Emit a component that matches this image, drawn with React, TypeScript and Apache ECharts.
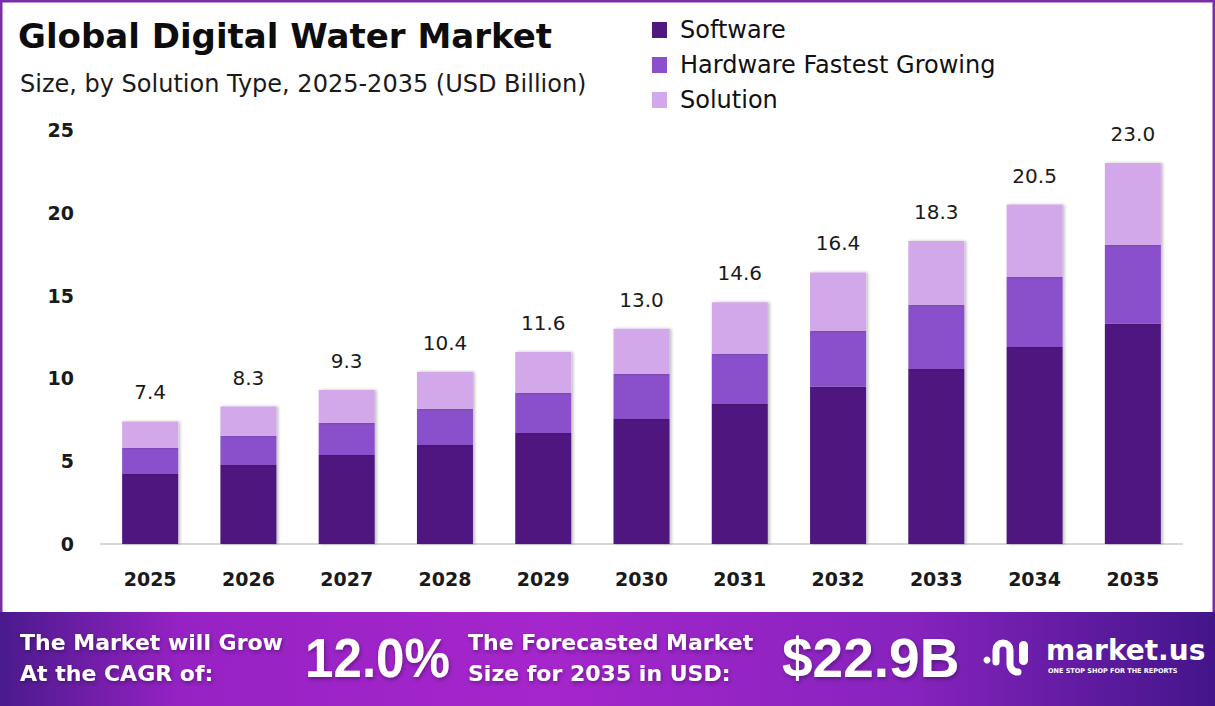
import React, { useEffect, useRef } from "react";
import * as echarts from "echarts";

const years = ["2025", "2026", "2027", "2028", "2029", "2030", "2031", "2032", "2033", "2034", "2035"];
const software = [4.23, 4.77, 5.38, 5.98, 6.7, 7.55, 8.46, 9.5, 10.57, 11.9, 13.3];
const hardware = [1.57, 1.76, 1.93, 2.18, 2.42, 2.72, 3.02, 3.37, 3.87, 4.23, 4.77];
const solution = [1.6, 1.77, 1.99, 2.24, 2.48, 2.73, 3.12, 3.53, 3.86, 4.37, 4.93];
const seriesNames = ["Software", "Hardware Fastest Growing", "Solution"];
const colors = ["#4f1780", "#8a4fcb", "#d3a8eb"];

const FONT = "'DejaVu Sans', sans-serif";
const BIG = "'Liberation Sans', Arial, sans-serif";

echarts.graphic.registerShape(
  "logoArch",
  echarts.graphic.extendPath(
    "M 996 662 L 996 650 A 7 7 0 0 1 1010 650 L 1010 664 A 8 8 0 0 0 1018 672",
    {}
  )
);

export default function App() {
  const ref = useRef<HTMLDivElement>(null);
  useEffect(() => {
    const chart = echarts.init(ref.current!, null, { renderer: "svg" });
    const shadow = {
      shadowBlur: 3,
      shadowColor: "rgba(0,0,0,0.25)",
      shadowOffsetX: 2,
      shadowOffsetY: 0,
    };
    const footText = {
      fill: "#ffffff",
      fontFamily: FONT,
      fontWeight: "bold",
      textShadowColor: "rgba(0,0,0,0.35)",
      textShadowBlur: 4,
      textShadowOffsetX: 1,
      textShadowOffsetY: 2,
    };
    chart.setOption({
      animation: false,
      backgroundColor: "#ffffff",
      color: colors,
      grid: { left: 101, right: 33, top: 130, bottom: 162 },
      legend: {
        orient: "vertical",
        left: 652,
        top: 18,
        itemWidth: 15,
        itemHeight: 16,
        itemGap: 11,
        padding: 0,
        icon: "rect",
        data: seriesNames,
        textStyle: { fontSize: 24, color: "#111", fontFamily: FONT, padding: [0, 0, 0, 8] },
      },
      xAxis: {
        type: "category",
        data: years,
        axisTick: { show: false },
        axisLine: { lineStyle: { color: "#d6d6d6", width: 2 } },
        axisLabel: { fontSize: 19, fontWeight: "bold", color: "#1a1a1a", margin: 25, fontFamily: FONT },
      },
      yAxis: {
        type: "value",
        min: 0,
        max: 25,
        interval: 5,
        splitLine: { show: false },
        axisLine: { show: false },
        axisTick: { show: false },
        axisLabel: { fontSize: 19, fontWeight: "bold", color: "#1a1a1a", margin: 27, fontFamily: FONT },
      },
      series: [
        {
          name: seriesNames[0],
          type: "bar",
          stack: "total",
          barWidth: 56,
          data: software,
          itemStyle: { color: colors[0], ...shadow },
        },
        {
          name: seriesNames[1],
          type: "bar",
          stack: "total",
          barWidth: 56,
          data: hardware,
          itemStyle: { color: colors[1], ...shadow },
        },
        {
          name: seriesNames[2],
          type: "bar",
          stack: "total",
          barWidth: 56,
          data: solution,
          itemStyle: { color: colors[2], ...shadow },
          label: {
            show: true,
            position: "top",
            distance: 19,
            fontSize: 20,
            color: "#1a1a1a",
            fontFamily: FONT,
            formatter: (p: any) =>
              (software[p.dataIndex] + hardware[p.dataIndex] + solution[p.dataIndex]).toFixed(1),
          },
        },
      ],
      graphic: [
        {
          type: "rect",
          shape: { x: 1, y: 1, width: 1213, height: 640 },
          style: { fill: "none", stroke: "#7b2da8", lineWidth: 3 },
          z: 10,
        },
        {
          type: "text",
          left: 18,
          top: 19,
          style: { text: "Global Digital Water Market", fontSize: 34, fontWeight: "bold", fill: "#0d0d0d", fontFamily: FONT },
        },
        {
          type: "text",
          left: 20,
          top: 72,
          style: { text: "Size, by Solution Type, 2025-2035 (USD Billion)", fontSize: 24, fill: "#1a1a1a", fontFamily: FONT },
        },
        {
          type: "rect",
          shape: { x: 0, y: 612, width: 1215, height: 94 },
          style: {
            fill: new echarts.graphic.LinearGradient(0, 0, 1, 0, [
              { offset: 0, color: "#4a1a8c" },
              { offset: 0.15, color: "#9722c4" },
              { offset: 0.45, color: "#a526cc" },
              { offset: 0.75, color: "#8723be" },
              { offset: 1, color: "#43158a" },
            ]),
          },
          z: 20,
        },
        { type: "text", z: 22, x: 20, y: 642, style: { ...footText, text: "The Market will Grow", fontSize: 22, verticalAlign: "middle" } },
        { type: "text", z: 22, x: 20, y: 673, style: { ...footText, text: "At the CAGR of:", fontSize: 22, verticalAlign: "middle" } },
        { type: "text", z: 22, x: 305, y: 658, scaleX: 0.93, style: { ...footText, fontFamily: BIG, text: "12.0%", fontSize: 55, verticalAlign: "middle" } },
        { type: "text", z: 22, x: 468, y: 642, style: { ...footText, text: "The Forecasted Market", fontSize: 22, verticalAlign: "middle" } },
        { type: "text", z: 22, x: 468, y: 673, style: { ...footText, text: "Size for 2035 in USD:", fontSize: 22, verticalAlign: "middle" } },
        { type: "text", z: 22, x: 782, y: 658, style: { ...footText, fontFamily: BIG, text: "$22.9B", fontSize: 55, verticalAlign: "middle" } },
        { type: "circle", z: 22, shape: { cx: 987, cy: 660, r: 3.5 }, style: { fill: "#ffffff" } },
        {
          type: "logoArch",
          z: 22,
          x: 0,
          y: 0,
          style: { fill: "none", stroke: "#ffffff", lineWidth: 7, lineCap: "round", lineJoin: "round" },
        },
        { type: "rect", z: 22, shape: { x: 1019, y: 641, width: 9, height: 24, r: 4.5 }, style: { fill: "#ffffff" } },
        { type: "text", z: 22, x: 1046, y: 650, style: { text: "market.us", fill: "#ffffff", fontFamily: FONT, fontWeight: "bold", fontSize: 28, verticalAlign: "middle" } },
        { type: "text", z: 22, x: 1048, y: 671, style: { text: "ONE STOP SHOP FOR THE REPORTS", fill: "#ffffff", fontFamily: FONT, fontWeight: "bold", fontSize: 6.5, verticalAlign: "middle" } },
      ],
    });
    return () => chart.dispose();
  }, []);
  return (
    <div
      ref={ref}
      style={{ position: "absolute", left: 0, top: 0, width: 1215, height: 706, background: "#fff" }}
    />
  );
}
